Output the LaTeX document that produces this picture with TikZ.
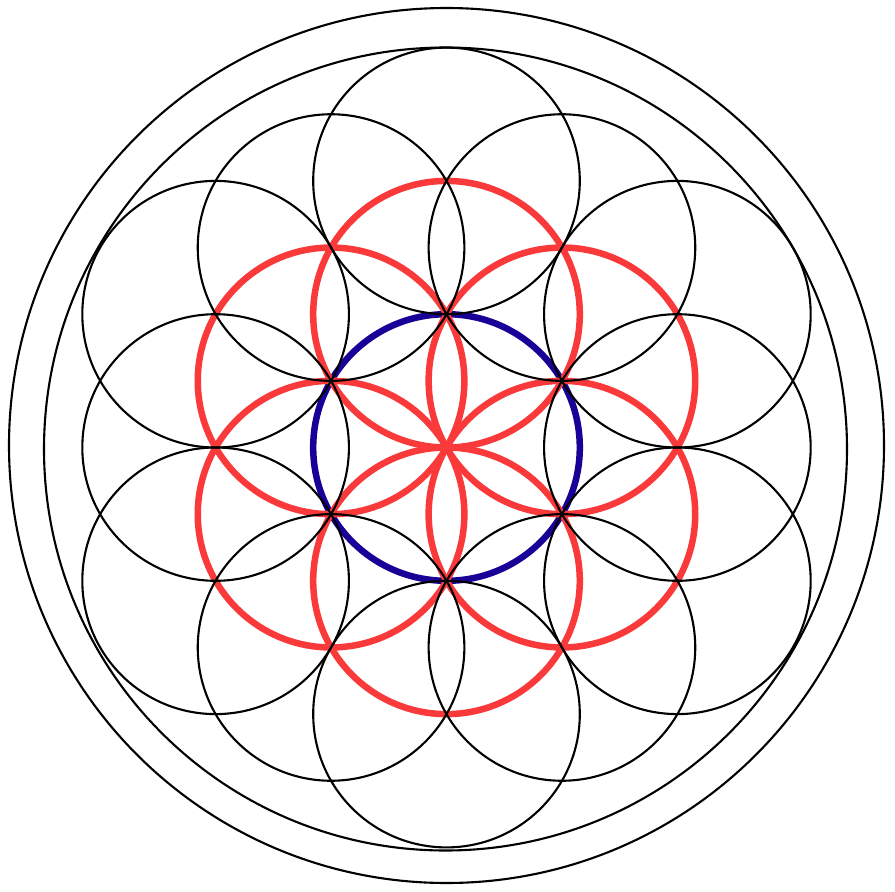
\documentclass[tikz,border=0pt]{standalone}
\usetikzlibrary{calc}
\definecolor{petalred}{RGB}{250,58,58}
\definecolor{seedblue}{RGB}{25,0,150}
\tikzset{
  blackring/.style={draw=black, line width=2.1pt},
  redring/.style={draw=petalred, line width=6.5pt},
  bluering/.style={draw=seedblue, line width=6.5pt}
}
\begin{document}
\begin{tikzpicture}[x=1pt,y=-1pt]
\useasboundingbox (0,0) rectangle (895,892);
\fill[white] (0,0) rectangle (895,892);
\coordinate (c) at (446.5,447.5);
\def\rr{133.3}
% blue seed circle
\draw[bluering] (c) circle[radius=\rr];
% red petal circles
\foreach \a in {30,90,150,210,270,330}{
  \draw[redring] ($(c)+(\a:\rr)$) circle[radius=\rr];
}
% black circles at sqrt3 r
\foreach \a in {0,60,120,180,240,300}{
  \draw[blackring] ($(c)+(\a:{1.73205*\rr})$) circle[radius=\rr];
}
% black circles at 2r
\foreach \a in {30,90,150,210,270,330}{
  \draw[blackring] ($(c)+(\a:{2*\rr})$) circle[radius=\rr];
}
% enclosing rings
\coordinate (ci) at (445.5,449);
\coordinate (co) at (446.5,445.5);
\draw[blackring] (ci) circle[radius=401.5];
\draw[blackring] (co) circle[radius=437.5];
\end{tikzpicture}
\end{document}
